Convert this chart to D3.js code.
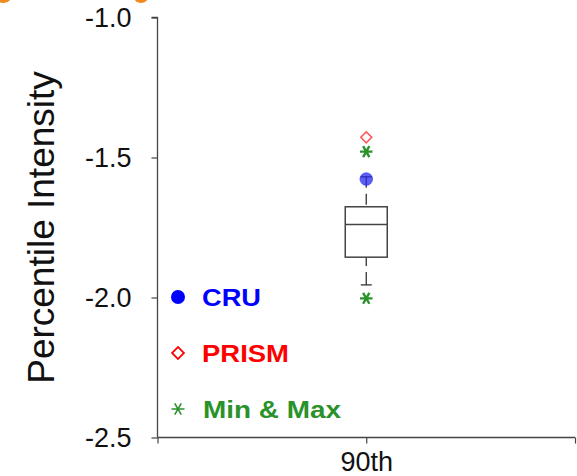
<!DOCTYPE html>
<html>
<head>
<meta charset="utf-8">
<script src="https://cdn.jsdelivr.net/npm/d3@7"></script>
<style>
  body { margin: 0; background: #fff; }
  svg { display: block; font-family: "Liberation Sans", Arial, sans-serif; }
</style>
</head>
<body>
<div id="area"></div>
<script>
// data
const categories = ["90th"]
const boxStats = [{lo: -1.955, q1: -1.856, med: -1.739, q3: -1.676, hi: -1.569}]
const cruValues = [-1.577]
const prismValues = [-1.428]
const minMaxValues = [[-2.003, -1.479]]
const yTicks = [-1.0, -1.5, -2.0, -2.5]
const legendItems = ["CRU", "PRISM", "Min & Max"]
const legendColors = ["#0000ff", "#ff0000", "#2a922a"]

const width = 577
const height = 476

const svg = d3.select("#area").append("svg")
    .attr("width", width)
    .attr("height", height)

// cropped remains of an orange title above the panel
svg.append("ellipse").attr("cx", 3).attr("cy", -3).attr("rx", 8).attr("ry", 6).attr("fill", "#f08a1c")
svg.append("ellipse").attr("cx", 141).attr("cy", -3).attr("rx", 7).attr("ry", 6).attr("fill", "#f08a1c")

const y = d3.scaleLinear().domain([-2.5, -1.0]).range([437.5, 17.5])
const x = d3.scaleLinear().domain([0, categories.length + 1]).range([157.5, 575])

// y axis
const yAxis = svg.append("g")
    .attr("transform", "translate(157.5,0)")
    .call(d3.axisLeft(y).tickValues(yTicks).tickFormat(d3.format(".1f")).tickSize(6).tickPadding(20))
yAxis.select(".domain").attr("stroke", "#444").attr("stroke-width", 1.3).attr("d", `M-6,${y(-1.0)}H0V${y(-2.5)}`)
yAxis.selectAll(".tick line").attr("stroke", "#444").attr("stroke-width", 1.2)
yAxis.selectAll(".tick text")
    .attr("font-size", 27)
    .attr("fill", "#111")
    .attr("font-family", "Liberation Sans, Arial, sans-serif")
    .text(d => d3.format(".1f")(d).replace("−", "-"))

// x axis
const xAxis = svg.append("g")
    .attr("transform", `translate(0,${y(-2.5)})`)
    .call(d3.axisBottom(x).tickValues([0, 1, 2]).tickSize(6).tickPadding(8)
        .tickFormat(d => categories[d - 1] || ""))
xAxis.select(".domain").attr("stroke", "#444").attr("stroke-width", 1.3).attr("d", `M${x(0)},0H${x(2)}`)
xAxis.selectAll(".tick line").attr("stroke", "#444").attr("stroke-width", 1.2)
xAxis.selectAll(".tick text")
    .attr("font-size", 27)
    .attr("fill", "#111")
    .attr("font-family", "Liberation Sans, Arial, sans-serif")

// y axis title
svg.append("text")
    .attr("transform", `translate(54,${(y(-1.0) + y(-2.5)) / 2}) rotate(-90)`)
    .attr("text-anchor", "middle")
    .attr("font-size", 37)
    .attr("fill", "#111")
    .text("Percentile Intensity")

// box plot
const boxW = 42
const box = svg.append("g")
boxStats.forEach((s, i) => {
    const cx = x(i + 1)
    box.append("line")
        .attr("x1", cx).attr("x2", cx)
        .attr("y1", y(s.hi)).attr("y2", y(s.q3))
        .attr("stroke", "#333").attr("stroke-width", 1.3)
        .attr("stroke-dasharray", "11,6")
    box.append("line")
        .attr("x1", cx).attr("x2", cx)
        .attr("y1", y(s.lo)).attr("y2", y(s.q1))
        .attr("stroke", "#333").attr("stroke-width", 1.3)
        .attr("stroke-dasharray", "13,6")
    ;[s.lo, s.hi].forEach(v => {
        box.append("line")
            .attr("x1", cx - 5.5).attr("x2", cx + 5.5)
            .attr("y1", y(v)).attr("y2", y(v))
            .attr("stroke", "#333").attr("stroke-width", 1.3)
    })
    box.append("rect")
        .attr("x", cx - boxW / 2).attr("width", boxW)
        .attr("y", y(s.q3)).attr("height", y(s.q1) - y(s.q3))
        .attr("fill", "none").attr("stroke", "#444").attr("stroke-width", 1.5)
    box.append("line")
        .attr("x1", cx - boxW / 2).attr("x2", cx + boxW / 2)
        .attr("y1", y(s.med)).attr("y2", y(s.med))
        .attr("stroke", "#444").attr("stroke-width", 1.5)
})

// symbols
const star = d3.symbol().type(d3.symbolAsterisk).size(110)
const diamond = d3.symbol().type(d3.symbolSquare).size(60)

cruValues.forEach((v, i) => {
    svg.append("circle")
        .attr("cx", x(i + 1)).attr("cy", y(v)).attr("r", 6.3)
        .attr("fill", "#2a2aee").attr("fill-opacity", 0.75)
        .attr("stroke", "#3030ff").attr("stroke-opacity", 0.6)
})
prismValues.forEach((v, i) => {
    svg.append("path")
        .attr("d", diamond)
        .attr("transform", `translate(${x(i + 1)},${y(v)}) rotate(45)`)
        .attr("fill", "none").attr("stroke", "#ff5a5a").attr("stroke-width", 1.6)
})
minMaxValues.forEach((pair, i) => {
    pair.forEach(v => {
        svg.append("path")
            .attr("d", star)
            .attr("transform", `translate(${x(i + 1)},${y(v)}) rotate(90)`)
            .attr("fill", "none").attr("stroke", "#2a922a").attr("stroke-width", 2.4)
    })
})

// legend
const legend = svg.append("g").attr("transform", "translate(178,297)")
const legendWidths = [59, 87, 138]
legendItems.forEach((name, i) => {
    const g = legend.append("g").attr("transform", `translate(0,${i * 56})`)
    if (i === 0) {
        g.append("circle").attr("r", 7).attr("fill", legendColors[i])
    } else if (i === 1) {
        g.append("path").attr("d", d3.symbol().type(d3.symbolSquare).size(70))
            .attr("transform", "rotate(45)")
            .attr("fill", "none").attr("stroke", legendColors[i]).attr("stroke-width", 1.8)
    } else {
        g.append("path").attr("d", d3.symbol().type(d3.symbolAsterisk).size(120))
            .attr("transform", "rotate(90)")
            .attr("fill", "none").attr("stroke", legendColors[i]).attr("stroke-width", 1.6)
    }
    g.append("text")
        .attr("x", i === 2 ? 25 : 24)
        .attr("y", 8.5)
        .attr("font-size", 23)
        .attr("font-weight", "bold")
        .attr("fill", legendColors[i])
        .attr("textLength", legendWidths[i])
        .attr("lengthAdjust", "spacingAndGlyphs")
        .text(name)
})
</script>
</body>
</html>
